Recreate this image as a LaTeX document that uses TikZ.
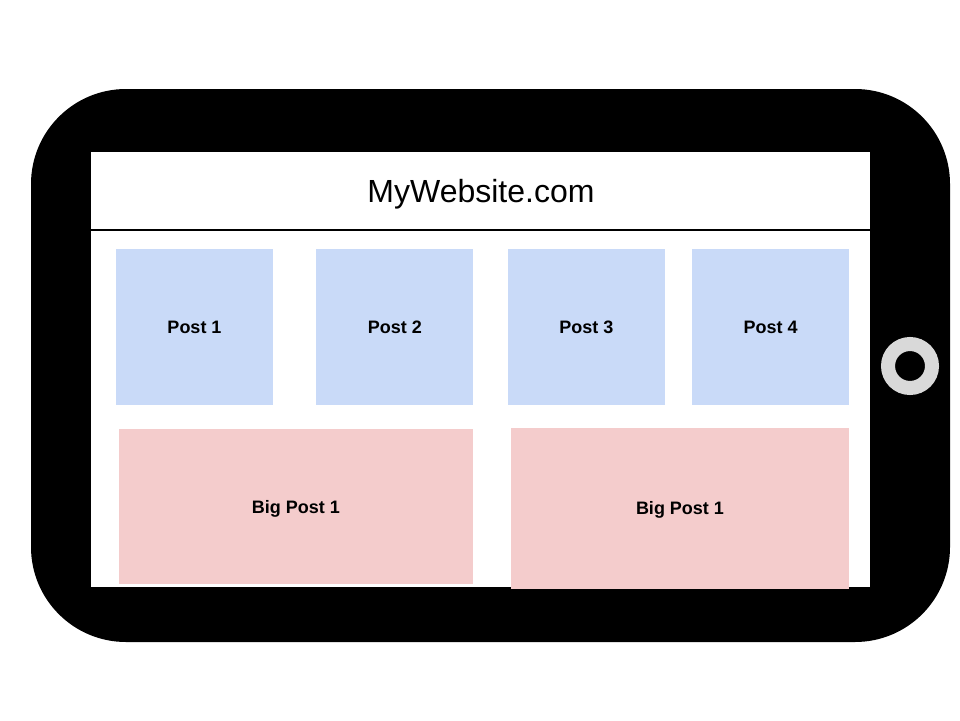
\documentclass[tikz,border=0pt]{standalone}
\usepackage{fontspec}
\setmainfont{Liberation Sans}
\usetikzlibrary{positioning}
\definecolor{postblue}{HTML}{C9DAF8}
\definecolor{bigpink}{HTML}{F4CCCC}
\definecolor{buttongray}{HTML}{D9D9D9}

\begin{document}
\begin{tikzpicture}[x=1pt, y=-1pt,
  post/.style={rectangle, fill=postblue, inner sep=0pt, minimum width=157pt, minimum height=156pt, font=\fontsize{18}{20}\selectfont\bfseries},
  bigpost/.style={rectangle, fill=bigpink, inner sep=0pt, text depth=0pt, font=\fontsize{18}{20}\selectfont\bfseries}]
%%% page and phone %%%
  \useasboundingbox (0,0) rectangle (960,720);
  \fill[black, rounded corners=95pt] (31,89) rectangle (950,642);
  \fill[white] (91,152) rectangle (870,587);
  \draw[line width=14pt, buttongray] (910,366) circle (22pt);

  %% header
  \node[text depth=0pt, font=\fontsize{32}{36}\selectfont] (title) at (481,191) {MyWebsite.com};
  \coordinate (hl) at (91,230);
  \coordinate (hr) at (870,230);
  \draw[line width=1.6pt] (hl) -- (hr);

  %% small posts
  \node[post] (post1) at (194.5,327) {Post 1};
  \node[post, right=43pt of post1] (post2) {Post 2};
  \node[post, right=34pt of post2] (post3) {Post 3};
  \node[post, right=27pt of post3] (post4) {Post 4};

  %% big posts
  \node[bigpost, minimum width=354pt, minimum height=155pt] (big1) at (296,506.5) {Big Post 1};
  \node[bigpost, minimum width=338pt, minimum height=161pt] (big2) at (680,508) {Big Post 1};

\end{tikzpicture}
\end{document}
